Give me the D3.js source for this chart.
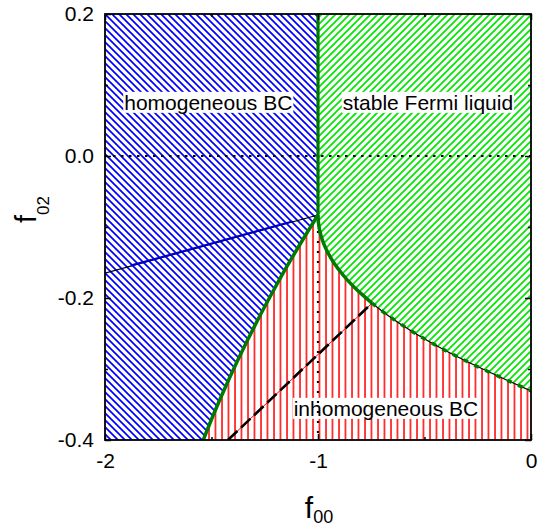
<!DOCTYPE html>
<html>
<head>
<meta charset="utf-8">
<script src="https://cdn.jsdelivr.net/npm/d3@7/dist/d3.min.js"></script>
<style>
  html, body { margin: 0; padding: 0; background: #fff; }
  svg { display: block; font-family: "Liberation Sans", Arial, Helvetica, sans-serif; }
</style>
</head>
<body>
<svg id="chart" width="549" height="532"></svg>
<script>
// ---------------- data ----------------
const xDomain = [-2, 0];
const yDomain = [-0.4, 0.2];
const xTicks = [-2, -1, 0];
const xTickLabels = ["-2", "-1", "0"];
const xMinorTicks = [-1.5, -0.5];
const yTicks = [0.2, 0.0, -0.2, -0.4];
const yTickLabels = ["0.2", "0.0", "-0.2", "-0.4"];
const yMinorTicks = [0.1, -0.1, -0.3];

// boundary between homogeneous BC and inhomogeneous BC
const leftBoundaryX = [-1.0, -1.0723, -1.1418, -1.2077, -1.2709, -1.3305, -1.3873, -1.4408, -1.4915, -1.5387];
const leftBoundaryY = [-0.0831, -0.1183, -0.1535, -0.1887, -0.2239, -0.2592, -0.2944, -0.3296, -0.3648, -0.4];
// boundary of stable Fermi liquid (solid part)
const rightSolidX = [-1.0, -0.9953, -0.9859, -0.9718, -0.9531, -0.9249, -0.8826, -0.8310, -0.7465];
const rightSolidY = [-0.0831, -0.1000, -0.1124, -0.1245, -0.1365, -0.1507, -0.1676, -0.1845, -0.2073];
// boundary of stable Fermi liquid (dashed part)
const rightDashX = [-0.7465, -0.6714, -0.5540, -0.4131, -0.2488, 0.0];
const rightDashY = [-0.2073, -0.2245, -0.2479, -0.2721, -0.2969, -0.3310];
// blue line inside the homogeneous BC region
const blueLineX = [-2.0, -1.0];
const blueLineY = [-0.165, -0.0831];
// dashed black line inside the inhomogeneous BC region
const dashLineX = [-1.4225, -0.7465];
const dashLineY = [-0.4, -0.2073];
// region labels
const regionLabels = ["homogeneous BC", "stable Fermi liquid", "inhomogeneous BC"];

// ---------------- layout ----------------
const W = 549, H = 532;
const M = { left: 105, top: 14, right: 18, bottom: 92 };
const x = d3.scaleLinear().domain(xDomain).range([M.left, W - M.right]);
const y = d3.scaleLinear().domain(yDomain).range([H - M.bottom, M.top]);
const svg = d3.select("#chart");

const zip = (xs, ys) => xs.map((v, i) => [v, ys[i]]);
const leftPts = zip(leftBoundaryX, leftBoundaryY);
const rightSolidPts = zip(rightSolidX, rightSolidY);
const rightDashPts = zip(rightDashX, rightDashY);
const rightPts = rightSolidPts.concat(rightDashPts.slice(1));

const lin = d3.line().x(d => x(d[0])).y(d => y(d[1]));
const smooth = d3.line().x(d => x(d[0])).y(d => y(d[1])).curve(d3.curveCatmullRom.alpha(0.5));

// ---------------- patterns ----------------
const defs = svg.append("defs");
const pb = defs.append("pattern").attr("id", "blueHatch").attr("patternUnits", "userSpaceOnUse")
  .attr("width", 7).attr("height", 7);
pb.append("rect").attr("width", 7).attr("height", 7).attr("fill", "#fff");
pb.append("path").attr("d", "M-1,-1 L8,8 M-1,6 L1,8 M6,-1 L8,1")
  .attr("stroke", "#0000ff").attr("stroke-width", 1.7);

const pg = defs.append("pattern").attr("id", "greenHatch").attr("patternUnits", "userSpaceOnUse")
  .attr("width", 7).attr("height", 7);
pg.append("rect").attr("width", 7).attr("height", 7).attr("fill", "#fff");
pg.append("path").attr("d", "M-1,8 L8,-1 M-1,1 L1,-1 M6,8 L8,6")
  .attr("stroke", "#00e600").attr("stroke-width", 1.7);

const pr = defs.append("pattern").attr("id", "redHatch").attr("patternUnits", "userSpaceOnUse")
  .attr("width", 6.5).attr("height", 10);
pr.append("rect").attr("width", 6.5).attr("height", 10).attr("fill", "#fff");
pr.append("line").attr("x1", 1).attr("x2", 1).attr("y1", 0).attr("y2", 10)
  .attr("stroke", "#ff0000").attr("stroke-width", 1.5);

defs.append("clipPath").attr("id", "plotClip").append("rect")
  .attr("x", x(xDomain[0])).attr("y", y(yDomain[1]))
  .attr("width", x(xDomain[1]) - x(xDomain[0])).attr("height", y(yDomain[0]) - y(yDomain[1]));

const plot = svg.append("g").attr("clip-path", "url(#plotClip)");

// ---------------- regions ----------------
const x0 = xDomain[0], x1 = xDomain[1], y0 = yDomain[0], y1 = yDomain[1];
const bluePoly = [[x0, y1], [-1, y1]].concat(leftPts).concat([[x0, y0]]);
const greenPoly = [[-1, y1]].concat(rightPts).concat([[x1, y1]]);
const redPoly = leftPts.concat([[x1, y0]]).concat(rightPts.slice().reverse());

plot.append("path").attr("d", lin(bluePoly) + "Z").attr("fill", "url(#blueHatch)");
plot.append("path").attr("d", lin(greenPoly) + "Z").attr("fill", "url(#greenHatch)");
plot.append("path").attr("d", lin(redPoly) + "Z").attr("fill", "url(#redHatch)");

// horizontal dotted line at f02 = 0
plot.append("line")
  .attr("x1", x(x0)).attr("x2", x(x1)).attr("y1", y(0)).attr("y2", y(0))
  .attr("stroke", "#000").attr("stroke-width", 2).attr("stroke-dasharray", "2.5,5.5");

// labels with white boxes
const labelPos = [[-1.515, 0.065], [-0.484, 0.065], [-0.681, -0.366]];
regionLabels.forEach((t, i) => {
  const g = plot.append("g");
  const txt = g.append("text")
    .attr("x", x(labelPos[i][0])).attr("y", y(labelPos[i][1]))
    .attr("text-anchor", "middle").attr("font-size", 21).attr("fill", "#000").text(t);
  const bb = txt.node().getBBox();
  g.insert("rect", "text").attr("x", bb.x - 1).attr("y", bb.y + 1)
    .attr("width", bb.width + 2).attr("height", bb.height - 2).attr("fill", "#fff");
});

// vertical dotted line at f00 = -1 below the junction
plot.append("line")
  .attr("x1", x(-1)).attr("x2", x(-1)).attr("y1", y(blueLineY[1]) + 6).attr("y2", y(y0))
  .attr("stroke", "#000").attr("stroke-width", 2.2).attr("stroke-dasharray", "2,8");

// blue line (black thin + blue)
plot.append("path").attr("d", lin(zip(blueLineX, blueLineY)))
  .attr("fill", "none").attr("stroke", "#000").attr("stroke-width", 1.2);
plot.append("path").attr("d", lin(zip([blueLineX[0] + 0.12, blueLineX[1] - 0.12],
    [blueLineY[0] + 0.12 * (blueLineY[1] - blueLineY[0]), blueLineY[1] - 0.12 * (blueLineY[1] - blueLineY[0])])))
  .attr("fill", "none").attr("stroke", "#0000cc").attr("stroke-width", 2).attr("transform", "translate(0,-0.6)");

// dashed line (red thin + black dashes)
plot.append("path").attr("d", lin(zip(dashLineX, dashLineY)))
  .attr("fill", "none").attr("stroke", "#ff0000").attr("stroke-width", 1);
plot.append("path").attr("d", lin(zip(dashLineX, dashLineY)))
  .attr("fill", "none").attr("stroke", "#000").attr("stroke-width", 2.6)
  .attr("stroke-dasharray", "13,5");

// green boundaries
plot.append("line")
  .attr("x1", x(-1)).attr("x2", x(-1)).attr("y1", y(y1)).attr("y2", y(blueLineY[1]))
  .attr("stroke", "#007a00").attr("stroke-width", 3.2);
plot.append("path").attr("d", smooth(leftPts))
  .attr("fill", "none").attr("stroke", "#007a00").attr("stroke-width", 3.5);
plot.append("path").attr("d", smooth(rightSolidPts))
  .attr("fill", "none").attr("stroke", "#007a00").attr("stroke-width", 3.5);
plot.append("path").attr("d", smooth(rightDashPts))
  .attr("fill", "none").attr("stroke", "#000").attr("stroke-width", 1.2);
plot.append("path").attr("d", smooth(rightDashPts))
  .attr("fill", "none").attr("stroke", "#007a00").attr("stroke-width", 3.5)
  .attr("stroke-dasharray", "5,7");

// ---------------- axes ----------------
function styleAxis(g) {
  g.select(".domain").remove();
  g.selectAll(".tick line").attr("stroke", "#000").attr("stroke-width", 1.5);
  g.selectAll(".tick text").attr("font-size", 21).attr("fill", "#000")
    .attr("font-family", "\"Liberation Sans\", Arial, sans-serif");
}
svg.append("g").attr("transform", `translate(0,${y(y0)})`)
  .call(d3.axisBottom(x).tickValues(xTicks).tickSize(-6).tickPadding(13)
    .tickFormat((d, i) => xTickLabels[i])).call(styleAxis);
svg.append("g").attr("transform", `translate(0,${y(y0)})`)
  .call(d3.axisBottom(x).tickValues(xMinorTicks).tickSize(-3).tickFormat("")).call(styleAxis);
svg.append("g").attr("transform", `translate(0,${y(y1)})`)
  .call(d3.axisTop(x).tickValues(xTicks).tickSize(-6).tickFormat("")).call(styleAxis);
svg.append("g").attr("transform", `translate(0,${y(y1)})`)
  .call(d3.axisTop(x).tickValues(xMinorTicks).tickSize(-3).tickFormat("")).call(styleAxis);
svg.append("g").attr("transform", `translate(${x(x0)},0)`)
  .call(d3.axisLeft(y).tickValues(yTicks).tickSize(-6).tickPadding(11)
    .tickFormat((d, i) => yTickLabels[i])).call(styleAxis);
svg.append("g").attr("transform", `translate(${x(x0)},0)`)
  .call(d3.axisLeft(y).tickValues(yMinorTicks).tickSize(-3).tickFormat("")).call(styleAxis);
svg.append("g").attr("transform", `translate(${x(x1)},0)`)
  .call(d3.axisRight(y).tickValues(yTicks).tickSize(-6).tickFormat("")).call(styleAxis);
svg.append("g").attr("transform", `translate(${x(x1)},0)`)
  .call(d3.axisRight(y).tickValues(yMinorTicks).tickSize(-3).tickFormat("")).call(styleAxis);

// frame
svg.append("rect")
  .attr("x", x(x0)).attr("y", y(y1))
  .attr("width", x(x1) - x(x0)).attr("height", y(y0) - y(y1))
  .attr("fill", "none").attr("stroke", "#000").attr("stroke-width", 1.8);

// axis titles
const xt = svg.append("text").attr("x", (x(x0) + x(x1)) / 2 + 1).attr("y", 518)
  .attr("text-anchor", "middle").attr("fill", "#000");
xt.append("tspan").attr("font-size", 30).text("f");
xt.append("tspan").attr("font-size", 18).attr("dy", 5).text("00");

const yt = svg.append("text").attr("transform", "translate(36,223) rotate(-90)")
  .attr("text-anchor", "start").attr("fill", "#000");
yt.append("tspan").attr("font-size", 29).text("f");
yt.append("tspan").attr("font-size", 17).attr("dy", 13).text("02");
</script>
</body>
</html>
